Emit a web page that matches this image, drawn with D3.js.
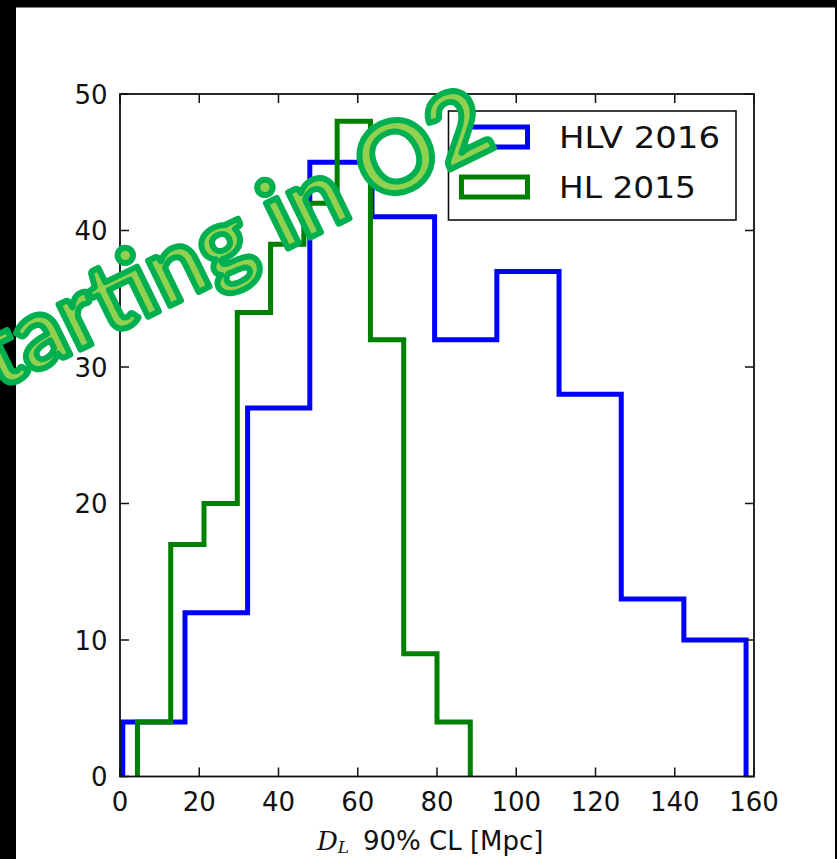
<!DOCTYPE html>
<html>
<head>
<meta charset="utf-8">
<script src="https://cdn.jsdelivr.net/npm/d3@7"></script>
<style>
  html, body { margin: 0; padding: 0; background: #000; }
  svg { display: block; }
</style>
</head>
<body>
<div id="chart"></div>
<script>
// Histogram bin edges (Mpc) and counts
const hlvEdges = [0.7, 16.4, 32.2, 47.9, 63.6, 79.4, 95.1, 110.8, 126.5, 142.3, 158.0];
const hlvCounts = [4, 12, 27, 45, 41, 32, 37, 28, 13, 10];
const hlEdges = [4.4, 12.8, 21.2, 29.6, 38.0, 46.4, 54.8, 63.2, 71.6, 80.0, 88.4];
const hlCounts = [4, 17, 20, 34, 39, 42, 48, 32, 9, 4];

const seriesNames = ["HLV 2016", "HL 2015"];
const seriesColors = ["#0000ff", "#008000"];
const xTicks = [0, 20, 40, 60, 80, 100, 120, 140, 160];
const yTicks = [0, 10, 20, 30, 40, 50];
const watermark = "starting in O2";

const W = 837, H = 859;
const plot = { left: 120, right: 754, top: 94, bottom: 776.5 };
const sans = "'DejaVu Sans', 'Liberation Sans', sans-serif";
const serif = "'DejaVu Serif', 'Liberation Serif', serif";

const svg = d3.select("#chart").append("svg")
    .attr("width", W)
    .attr("height", H);

// black frame behind the white panel
svg.append("rect").attr("width", W).attr("height", H).attr("fill", "#000");
svg.append("rect")
    .attr("x", 16).attr("y", 7.5)
    .attr("width", 835 - 16).attr("height", H - 7.5)
    .attr("fill", "#fff");

const x = d3.scaleLinear().domain([0, 160]).range([plot.left, plot.right]);
const y = d3.scaleLinear().domain([0, 50]).range([plot.bottom, plot.top]);

const g = svg.append("g");

// step outline of a histogram
function stepPoints(edges, counts) {
    const pts = [[edges[0], 0]];
    counts.forEach((c, i) => {
        pts.push([edges[i], c]);
        pts.push([edges[i + 1], c]);
    });
    pts.push([edges[edges.length - 1], 0]);
    return pts;
}

const line = d3.line().x(d => x(d[0])).y(d => y(d[1]));

const series = [
    { edges: hlvEdges, counts: hlvCounts },
    { edges: hlEdges, counts: hlCounts }
];

series.forEach((s, i) => {
    g.append("path")
        .attr("d", line(stepPoints(s.edges, s.counts)))
        .attr("fill", "none")
        .attr("stroke", seriesColors[i])
        .attr("stroke-width", 5)
        .attr("stroke-linejoin", "miter")
        .attr("stroke-linecap", "butt");
});

// axes frame
g.append("rect")
    .attr("x", plot.left).attr("y", plot.top)
    .attr("width", plot.right - plot.left)
    .attr("height", plot.bottom - plot.top)
    .attr("fill", "none")
    .attr("stroke", "#111")
    .attr("stroke-width", 1.8);

// inward ticks on all four sides
const tickLen = 9;
const tickStyle = sel => sel.attr("stroke", "#111").attr("stroke-width", 1.5);
xTicks.forEach(t => {
    g.append("line").attr("x1", x(t)).attr("x2", x(t))
        .attr("y1", plot.bottom).attr("y2", plot.bottom - tickLen).call(tickStyle);
    g.append("line").attr("x1", x(t)).attr("x2", x(t))
        .attr("y1", plot.top).attr("y2", plot.top + tickLen).call(tickStyle);
    g.append("text")
        .attr("x", x(t)).attr("y", 811)
        .attr("text-anchor", "middle")
        .attr("font-family", sans).attr("font-size", "26px")
        .attr("fill", "#111")
        .text(t);
});
yTicks.forEach(t => {
    g.append("line").attr("x1", plot.left).attr("x2", plot.left + tickLen)
        .attr("y1", y(t)).attr("y2", y(t)).call(tickStyle);
    g.append("line").attr("x1", plot.right).attr("x2", plot.right - tickLen)
        .attr("y1", y(t)).attr("y2", y(t)).call(tickStyle);
    g.append("text")
        .attr("x", 107.5).attr("y", y(t) + 9.5)
        .attr("text-anchor", "end")
        .attr("font-family", sans).attr("font-size", "26px")
        .attr("fill", "#111")
        .text(t);
});

// x axis label: D_L 90% CL [Mpc]
const xl = g.append("text")
    .attr("y", 850)
    .attr("fill", "#111")
    .attr("font-size", "26px");
xl.append("tspan").attr("x", 317)
    .attr("font-family", serif).attr("font-style", "italic")
    .text("D");
xl.append("tspan").attr("dy", 3)
    .attr("font-family", serif).attr("font-style", "italic")
    .attr("font-size", "17px")
    .text("L");
xl.append("tspan").attr("x", 363).attr("dy", -3)
    .attr("font-family", sans)
    .text("90% CL [Mpc]");

// legend
const lg = g.append("g");
lg.append("rect")
    .attr("x", 448.5).attr("y", 111)
    .attr("width", 736 - 448.5).attr("height", 220 - 111)
    .attr("fill", "#fff")
    .attr("stroke", "#111")
    .attr("stroke-width", 1.6);
const legendRows = [137, 187];
seriesNames.forEach((name, i) => {
    const cy = legendRows[i];
    lg.append("rect")
        .attr("x", 461.5).attr("y", cy - 10)
        .attr("width", 66).attr("height", 20)
        .attr("fill", "none")
        .attr("stroke", seriesColors[i])
        .attr("stroke-width", 5);
    lg.append("text")
        .attr("x", 559).attr("y", cy + 11)
        .attr("font-family", sans).attr("font-size", "30px")
        .attr("fill", "#111")
        .attr("textLength", i === 0 ? 161 : 137)
        .attr("lengthAdjust", "spacingAndGlyphs")
        .text(name);
});

// WordArt-style overlay, drawn over everything
svg.append("text")
    .attr("transform", "translate(498,146) rotate(-26)")
    .attr("text-anchor", "end")
    .attr("font-family", "Lato, 'Open Sans', sans-serif")
    .attr("font-weight", 700)
    .attr("font-size", "98px")
    .attr("fill", "#92d050")
    .attr("stroke", "#00b050")
    .attr("stroke-width", 6)
    .attr("stroke-linejoin", "round")
    .attr("paint-order", "normal")
    .text(watermark);
</script>
</body>
</html>
